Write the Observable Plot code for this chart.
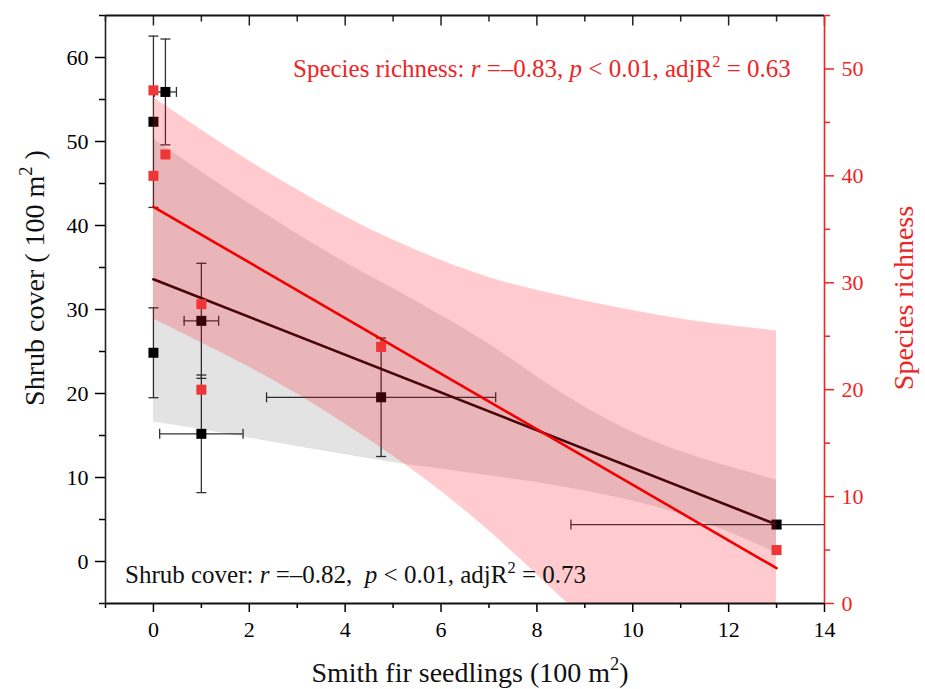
<!DOCTYPE html>
<html><head><meta charset="utf-8">
<script src="https://cdn.jsdelivr.net/npm/d3@7"></script>
<script src="https://cdn.jsdelivr.net/npm/@observablehq/plot@0.6"></script>
<style>
html,body{margin:0;padding:0;background:#fff;overflow:hidden}
#wrap{position:relative;width:925px;height:689px;overflow:hidden;background:#fff}
#wrap svg{position:absolute;left:0;top:0;font-family:'Liberation Serif','Times New Roman',serif}
#wrap svg text, #wrap svg tspan{font-family:'Liberation Serif','Times New Roman',serif !important}
</style></head><body><div id="wrap"></div>
<script>
// ---- data ----
const seedlings = [0, 0, 0.25, 1, 1, 4.75, 13];          // Smith fir seedlings (100 m2)
const seedlingsErr = [0, 0, 0.23, 0.36, 0.87, 2.39, 4.29];
const shrubCover = [52.35, 24.85, 55.9, 28.65, 15.2, 19.55, 4.4];
const shrubCoverErr = [10.2, 5.35, 6.3, 6.85, 7.0, 7.05, 0.45];
const richness = [48, 40, 42, 28, 20, 24, 5];

const fitX = [0, 13];
const shrubFit = [33.6, 4.4];
const richFit = [37.1, 3.3];

const bandX = [0, 1, 2, 3, 4, 5, 6, 7, 8, 9, 10, 11, 12, 13];
const shrubLo = [16.6, 15.7, 14.7, 13.7, 12.7, 11.8, 11.0, 10.2, 9.4, 8.4, 7.2, 5.6, 3.5, 1.0];
const shrubHi = [50.3, 46.4, 42.6, 39.0, 35.6, 32.5, 29.3, 25.9, 22.0, 18.4, 15.4, 13.1, 11.3, 9.7];
const richLo = [26.6, 24.4, 22.1, 19.6, 16.8, 13.8, 10.5, 6.8, 2.7, -1.5, -5.7, -10, -14.5, -19];
const richHi = [47.3, 44.3, 41.4, 38.7, 36.2, 34.0, 32.1, 30.5, 29.3, 28.3, 27.4, 26.6, 26.0, 25.5];

const xMajor = [0, 2, 4, 6, 8, 10, 12, 14];
const xMinor = [-1, 1, 3, 5, 7, 9, 11, 13];
const yLeftMajor = [0, 10, 20, 30, 40, 50, 60];
const yLeftMinor = [-5, 5, 15, 25, 35, 45, 55, 65];
const yRightMajor = [0, 10, 20, 30, 40, 50];
const yRightMinor = [5, 15, 25, 35, 45, 55];

const xLabel = "Smith fir seedlings (100 m";
const yLeftLabel = "Shrub cover ( 100 m";
const yRightLabel = "Species richness";

// ---- layout ----
const W = 925, H = 689;
const serif = "'Liberation Serif', 'Times New Roman', serif";
const RED = "#ee2424";
const common = {
  width: W, height: H, marginLeft: 105, marginRight: 101, marginTop: 15, marginBottom: 86,
  x: {domain: [-1, 14], axis: null},
  style: {fontFamily: serif, fontSize: "22px", background: "transparent", maxWidth: "none", overflow: "visible"}
};
const axisText = {fontFamily: serif, fontSize: 22, label: null};

const shrub = seedlings.map((x, i) => ({x, y: shrubCover[i], xe: seedlingsErr[i], ye: shrubCoverErr[i]}));
const rich = seedlings.map((x, i) => ({x, y: richness[i]}));
const shrubBand = bandX.map((x, i) => ({x, lo: shrubLo[i], hi: shrubHi[i]}));
const richBand = bandX.map((x, i) => ({x, lo: richLo[i], hi: richHi[i]}));
const shrubLine = fitX.map((x, i) => ({x, y: shrubFit[i]}));
const richLine = fitX.map((x, i) => ({x, y: richFit[i]}));

const hCap = {draw(c, s) { const r = Math.sqrt(s / Math.PI); c.moveTo(-r, 0); c.lineTo(r, 0); }};
const vCap = {draw(c, s) { const r = Math.sqrt(s / Math.PI); c.moveTo(0, -r); c.lineTo(0, r); }};
const downTick = {draw(c, s) { const r = Math.sqrt(s / Math.PI); c.moveTo(0, 0); c.lineTo(0, r); }};

const vErr = shrub.filter(d => d.ye > 0);
const hErr = shrub.filter(d => d.xe > 0);
const vCaps = vErr.flatMap(d => [{x: d.x, y: d.y - d.ye}, {x: d.x, y: d.y + d.ye}]);
const hCaps = hErr.flatMap(d => [{x: d.x - d.xe, y: d.y}, {x: d.x + d.xe, y: d.y}]);
const ERR = "#333";

const chartA = Plot.plot({
  ...common,
  y: {domain: [-5, 65], axis: null},
  marks: [
    Plot.ruleX(vErr, {x: "x", y1: d => d.y - d.ye, y2: d => d.y + d.ye, stroke: ERR, strokeWidth: 1.3, clip: true}),
    Plot.ruleY(hErr, {y: "y", x1: d => d.x - d.xe, x2: d => d.x + d.xe, stroke: ERR, strokeWidth: 1.3, clip: true}),
    Plot.dot(vCaps, {x: "x", y: "y", symbol: hCap, r: 5, stroke: ERR, fill: "none", strokeWidth: 1.3, clip: true}),
    Plot.dot(hCaps, {x: "x", y: "y", symbol: vCap, r: 5, stroke: ERR, fill: "none", strokeWidth: 1.3, clip: true}),
    Plot.dot(shrub, {x: "x", y: "y", symbol: "square", r: 5.64, fill: "#000", stroke: "none"}),
    Plot.line(shrubLine, {x: "x", y: "y", stroke: "#1a0404", strokeWidth: 2.6}),
    Plot.areaY(shrubBand, {x: "x", y1: "lo", y2: "hi", curve: "natural", fill: "#000", fillOpacity: 0.11, clip: true}),
    Plot.axisY(yLeftMajor, {anchor: "left", tickSize: 10, tickPadding: 7, strokeWidth: 1.5, ...axisText}),
    Plot.axisY(yLeftMinor, {anchor: "left", tickSize: 6, tickFormat: () => "", strokeWidth: 1.5, label: null}),
    Plot.axisX(xMajor, {anchor: "bottom", tickSize: 9, tickPadding: 9, strokeWidth: 1.5, ...axisText}),
    Plot.axisX(xMinor, {anchor: "bottom", tickSize: 5, tickFormat: () => "", strokeWidth: 1.5, label: null}),
    Plot.dot(xMajor, {x: d => d, y: () => 65, symbol: downTick, r: 10, stroke: "#222", fill: "none", strokeWidth: 1.5}),
    Plot.dot(xMinor, {x: d => d, y: () => 65, symbol: downTick, r: 6, stroke: "#222", fill: "none", strokeWidth: 1.5})
  ]
});

const chartB = Plot.plot({
  ...common,
  y: {domain: [0, 55], axis: null},
  marks: [
    Plot.areaY(richBand, {x: "x", y1: "lo", y2: "hi", curve: "natural", fill: "#ff1020", fillOpacity: 0.22, clip: true}),
    Plot.ruleY([0], {stroke: "#111", strokeWidth: 1.8}),
    Plot.ruleY([55], {stroke: "#111", strokeWidth: 1.8}),
    Plot.ruleX([-1], {stroke: "#222", strokeWidth: 1.6}),
    Plot.ruleX([14], {stroke: RED, strokeWidth: 1.6}),
    Plot.line(richLine, {x: "x", y: "y", stroke: "#f20000", strokeWidth: 2.6}),
    Plot.dot(rich, {x: "x", y: "y", symbol: "square", r: 5.64, fill: "#ef3535", stroke: "none"}),
    Plot.axisY(yRightMajor, {anchor: "right", tickSize: 9, tickPadding: 8, color: RED, strokeWidth: 1.5, ...axisText}),
    Plot.axisY(yRightMinor, {anchor: "right", tickSize: 5, tickFormat: () => "", color: RED, strokeWidth: 1.5, label: null})
  ]
});

const wrap = document.getElementById("wrap");
wrap.appendChild(chartA);
wrap.appendChild(chartB);
for (const svg of [chartA, chartB]) {
  d3.select(svg).style("font-family", serif).style("background", "transparent");
  d3.select(svg).selectAll("text").attr("font-family", serif);
}

function richText(svg, x, y, parts, {size, fill = "#111", rotate = false, anchor = "start"}) {
  const t = d3.select(svg).append("text")
    .attr("x", x).attr("y", y)
    .attr("font-size", size).attr("fill", fill).attr("font-family", serif)
    .attr("text-anchor", anchor).style("white-space", "pre");
  if (rotate) t.attr("transform", `rotate(-90 ${x} ${y})`);
  const supSize = size * 0.66, rise = size * 0.42;
  let raised = false;
  for (const p of parts) {
    const s = t.append("tspan").text(p.t);
    if (p.i) s.attr("font-style", "italic");
    if (p.sup) { s.attr("font-size", supSize).attr("dy", -rise); raised = true; }
    else if (raised) { s.attr("dy", rise); raised = false; }
  }
}

richText(chartB, 293, 77, [
  {t: "Species richness: "}, {t: "r", i: 1}, {t: " =–0.83, "}, {t: "p", i: 1},
  {t: " < 0.01, adjR"}, {t: "2", sup: 1}, {t: " = 0.63"}
], {size: 25, fill: RED});

richText(chartB, 125, 583, [
  {t: "Shrub cover: "}, {t: "r", i: 1}, {t: " =–0.82,  "}, {t: "p", i: 1},
  {t: " < 0.01, adjR"}, {t: "2", sup: 1}, {t: " = 0.73"}
], {size: 25, fill: "#111"});

richText(chartB, 470, 682, [{t: xLabel}, {t: "2", sup: 1}, {t: ")"}], {size: 28, anchor: "middle"});
richText(chartB, 44, 278, [{t: yLeftLabel}, {t: "2", sup: 1}, {t: " )"}], {size: 28, anchor: "middle", rotate: true});
richText(chartB, 913, 298, [{t: yRightLabel}], {size: 28, anchor: "middle", rotate: true, fill: RED});
</script>
</body></html>
